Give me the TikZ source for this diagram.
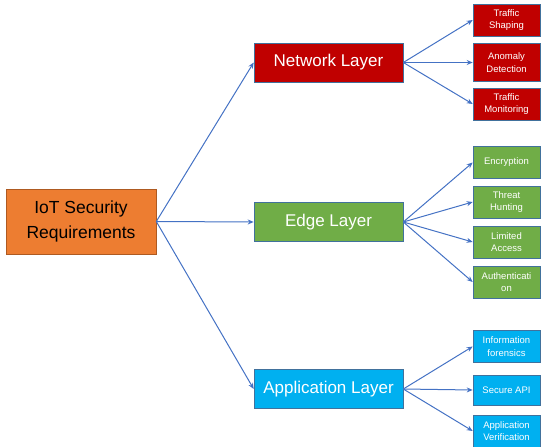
\documentclass[tikz,border=0pt]{standalone}
\usepackage{fontspec}
\setmainfont{Liberation Sans}
\usetikzlibrary{shapes}
\usetikzlibrary{arrows.meta}

\definecolor{rootfill}{HTML}{ED7D31}
\definecolor{rootline}{HTML}{AE5A21}
\definecolor{netfill}{HTML}{C00000}
\definecolor{edgefill}{HTML}{70AD47}
\definecolor{appfill}{HTML}{00B0F0}
\definecolor{boxline}{HTML}{41719C}
\definecolor{arrowline}{HTML}{4472C4}

\begin{document}
\begin{tikzpicture}[x=1pt,y=-1pt]
			\tikzstyle{box}=[rectangle,draw=boxline,line width=0.6pt,inner sep=0pt,align=center,text=white]
			\tikzstyle{layer}=[box,minimum width=149pt,minimum height=39pt,font=\fontsize{17}{20}\selectfont]
			\tikzstyle{leaf}=[box,minimum width=67pt,minimum height=32pt,font=\fontsize{9.5}{12.5}\selectfont]
			\tikzstyle{link}=[draw=arrowline,line width=1pt,-{Stealth[length=6pt,width=5pt]}]
			
			\useasboundingbox (0,0) rectangle (541,447);
			
			\node[box,fill=rootfill,draw=rootline,text=black,minimum width=150pt,minimum height=65pt,
			font=\fontsize{17.5}{25}\selectfont] (iot) at (81,221.5) {IoT Security\\Requirements};
			
			\node[layer,fill=netfill] (net) at (328.5,62.5) {Network Layer};
			\node[layer,fill=edgefill] (edge) at (328.5,222) {Edge Layer};
			\node[layer,fill=appfill] (app) at (328.5,389) {Application Layer};
			
			\node[leaf,fill=netfill] (shaping) at (506.5,20) {Traffic\\Shaping};
			\node[leaf,fill=netfill,minimum height=38pt] (anomaly) at (506.5,62.5) {Anomaly\\Detection};
			\node[leaf,fill=netfill] (monitor) at (506.5,104) {Traffic\\Monitoring};
			
			\node[leaf,fill=edgefill] (encrypt) at (506.5,162.5) {Encryption};
			\node[leaf,fill=edgefill] (threat) at (506.5,202) {Threat\\Hunting};
			\node[leaf,fill=edgefill] (limited) at (506.5,242) {Limited\\Access};
			\node[leaf,fill=edgefill] (auth) at (506.5,282) {Authenticati\\on};
			
			\node[leaf,fill=appfill] (forensic) at (506.5,346.5) {Information\\forensics};
			\node[leaf,fill=appfill,minimum height=30pt] (api) at (506.5,390) {Secure API};
			\node[leaf,fill=appfill] (verify) at (506.5,431) {Application\\Verification};
			
			\foreach \t in {net,edge,app}
				\draw[link] (iot.east) -- (\t.west);
			\foreach \t in {shaping,anomaly,monitor}
				\draw[link] (net.east) -- (\t.west);
			\foreach \t in {encrypt,threat,limited,auth}
				\draw[link] (edge.east) -- (\t.west);
			\foreach \t in {forensic,api,verify}
				\draw[link] (app.east) -- (\t.west);
			
			\end{tikzpicture}
\end{document}
